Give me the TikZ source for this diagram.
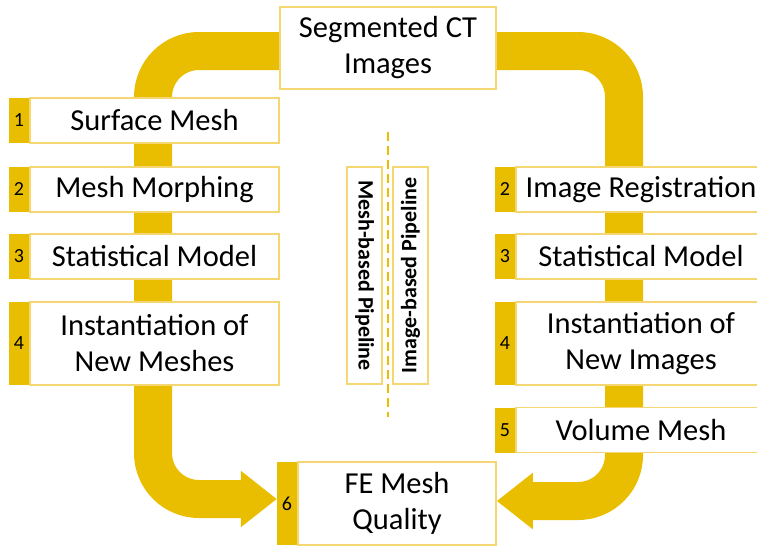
\documentclass[tikz,border=0pt]{standalone}
\usepackage{fontspec}
\setmainfont{Carlito}
\usetikzlibrary{positioning, arrows.meta, backgrounds}

\definecolor{pipegold}{RGB}{234,190,0}
\definecolor{rimgold}{RGB}{244,214,115}

\tikzset{
  stepbox/.style = {draw=rimgold, line width=1.5pt, fill=white, inner sep=0pt,
                    minimum width=249, minimum height=45, align=center,
                    font=\fontsize{30.5}{36}\selectfont},
  numtab/.style  = {fill=pipegold, inner sep=0pt, minimum width=20, minimum height=45,
                    font=\fontsize{20}{22}\selectfont},
  sidebox/.style = {draw=rimgold, line width=1.5pt, fill=white, inner sep=0pt,
                    minimum width=217, minimum height=35,
                    font=\fontsize{22}{24}\selectfont\bfseries},
  pipe/.style    = {draw=pipegold, line width=38pt, rounded corners=46pt},
  pipehead/.style = {-{Triangle[length=36pt, width=54pt]}}
}

\begin{document}
\begin{tikzpicture}[x=1pt, y=-1pt]
\useasboundingbox (0,0) rectangle (757,546);

% start and end
\node[stepbox, minimum width=216, minimum height=82] (ct) at (388,48) {Segmented CT\\Images};
\node[stepbox, minimum width=198, minimum height=83] (fe) at (397,503.5) {FE Mesh\\Quality};
\node[numtab, minimum height=83, left=0pt of fe] (fe n) {6};

% mesh-based pipeline
\node[stepbox] (surf) at (154.5,120.5) {Surface Mesh};
\node[numtab, left=0pt of surf] (surf n) {1};
\node[stepbox] (morph) at (154.5,189.5) {Mesh Morphing};
\node[numtab, left=0pt of morph] (morph n) {2};
\node[stepbox] (ssm l) at (154.5,256.5) {Statistical Model};
\node[numtab, left=0pt of ssm l] (ssm l n) {3};
\node[stepbox, minimum height=83] (inst l) at (154.5,343.5) {Instantiation of\\New Meshes};
\node[numtab, minimum height=83, left=0pt of inst l] (inst l n) {4};

% image-based pipeline
\node[stepbox, minimum width=250] (reg) at (641,189.5) {Image Registration};
\node[numtab, left=0pt of reg] (reg n) {2};
\node[stepbox, minimum width=250] (ssm r) at (641,256.5) {Statistical Model};
\node[numtab, left=0pt of ssm r] (ssm r n) {3};
\node[stepbox, minimum width=250, minimum height=83] (inst r) at (641,343.5) {Instantiation of\\New Images};
\node[numtab, minimum height=83, left=0pt of inst r] (inst r n) {4};
\node[stepbox, minimum width=250] (vol) at (641,430) {Volume Mesh};
\node[numtab, left=0pt of vol] (vol n) {5};

% labels in the middle
\coordinate (div top) at (388,132);
\coordinate (div bot) at (388,417);
\draw[pipegold, line width=2.5pt, dash pattern=on 9pt off 5pt] (div top) -- (div bot);
\node[sidebox, rotate=-90] (meshlab) at (364.5,275.5) {Mesh-based Pipeline};
\node[sidebox, rotate=90] (imglab) at (410.5,275.5) {Image-based Pipeline};

% the two pipes
\coordinate (l top) at (153,51);
\coordinate (l bot) at (153,499);
\coordinate (r top) at (624,51);
\coordinate (r bot) at (624,501);
\begin{scope}[on background layer]
\draw[pipe, pipehead] (ct.west |- l top) -- (l top) -- (l bot) -- (fe n.west |- l bot);
\draw[pipe, pipehead] (ct.east |- r top) -- (r top) -- (r bot) -- (fe.east |- r bot);
\end{scope}
\end{tikzpicture}
\end{document}
